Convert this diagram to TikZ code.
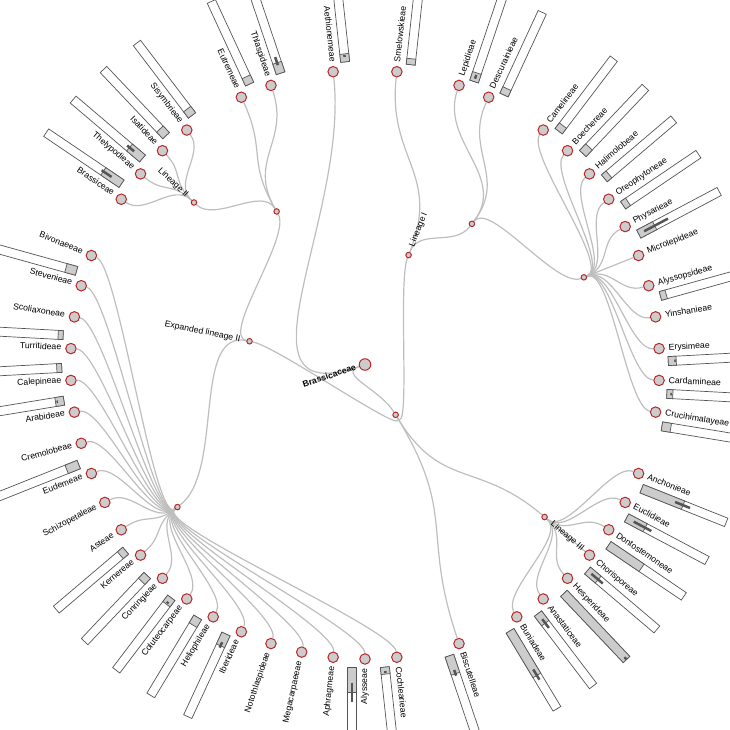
\documentclass[tikz,border=0pt]{standalone}
\usepackage{fontspec}
\setmainfont{Liberation Sans}
\usetikzlibrary{backgrounds}

\definecolor{tribered}{RGB}{185,40,40}
\definecolor{tribegray}{RGB}{204,204,204}
\definecolor{linkgray}{RGB}{190,190,190}
\definecolor{bardark}{RGB}{85,85,85}

% angle, filled length, error bar from, error bar to
\newcommand{\tribebar}[4]{%
  \begin{scope}[rotate=#1]
    \draw[barbox] (303,-17.5) rectangle (394,-8.5);
    \draw[barfill] (303,-17.5) rectangle (303+#2,-8.5);
    \draw[errbar] (303+#3,-13) -- (303+#4,-13);
  \end{scope}}

\begin{document}
\begin{tikzpicture}[
    x=1pt, y=1pt,
    leafnode/.style={circle, draw=tribered, fill=tribegray, line width=1pt, minimum size=10.5pt, inner sep=0pt},
    splitnode/.style={leafnode, minimum size=5.5pt},
    rootnode/.style={leafnode, minimum size=11.5pt},
    tagtext/.style={font=\fontsize{8.7}{10}\selectfont, inner sep=0pt, text height=6.2pt, text depth=1.8pt},
    rtag/.style={tagtext, rotate=#1, anchor=west},
    ltag/.style={tagtext, rotate=#1+180, anchor=east},
    link/.style={draw=linkgray, line width=1.2pt},
    barbox/.style={draw=bardark, line width=0.7pt, fill=white},
    barfill/.style={draw=bardark, line width=0.7pt, fill=tribegray},
    errbar/.style={draw=bardark, line width=2.5pt}
]
    \useasboundingbox (-365,-364.5) rectangle (365,364.5);

    % Bars
    \tribebar{-9.31}{9}{0}{0}
    \tribebar{-3.10}{6}{3.5}{5}
    \tribebar{3.10}{8}{6}{7.5}
    \tribebar{15.52}{6}{0}{0}
    \tribebar{27.93}{18}{6}{33}
    \tribebar{34.14}{6}{0}{0}
    \tribebar{40.34}{6}{0}{0}
    \tribebar{46.55}{9}{0}{0}
    \tribebar{52.76}{7}{0}{0}
    \tribebar{65.17}{7}{0}{0}
    \tribebar{71.38}{9}{3}{7}
    \tribebar{83.79}{6}{0}{0}
    \tribebar{96.21}{8}{5}{7}
    \tribebar{108.62}{11}{8.5}{17}
    \tribebar{114.83}{8}{0}{0}
    \tribebar{127.24}{8}{0}{0}
    \tribebar{133.45}{9}{0}{0}
    \tribebar{139.66}{17}{11}{20}
    \tribebar{145.86}{22}{12}{24}
    \tribebar{164.48}{11}{0}{0}
    \tribebar{176.90}{5}{0}{0}
    \tribebar{183.10}{5}{0}{0}
    \tribebar{189.31}{8.5}{6}{7.5}
    \tribebar{201.72}{13}{0}{0}
    \tribebar{220.34}{7}{0}{0}
    \tribebar{226.55}{8}{0}{0}
    \tribebar{232.76}{8}{5}{7}
    \tribebar{238.97}{9}{0}{0}
    \tribebar{245.17}{13}{9}{15}
    \tribebar{270.00}{24.5}{15}{34}
    \tribebar{276.21}{7}{4}{6}
    \tribebar{288.62}{19}{15}{21}
    \tribebar{301.03}{52}{45}{57}
    \tribebar{307.24}{12}{7}{18}
    \tribebar{313.45}{91}{88}{90.5}
    \tribebar{319.66}{14}{5}{20}
    \tribebar{325.86}{40}{0}{0}
    \tribebar{332.07}{21}{8}{28}
    \tribebar{338.28}{44.5}{36}{52}

    % Inner nodes
    \node[rootnode] (brass) at (0,0) {};
    \node[splitnode] (core) at (301.30:58.9) {};
    \node[splitnode] (explin) at (168.62:117.8) {};
    \node[splitnode] (linI) at (68.28:117.8) {};
    \node[splitnode] (explinA) at (120.00:176.7) {};
    \node[splitnode] (linIa) at (52.76:176.7) {};
    \node[splitnode] (linII) at (136.55:235.6) {};
    \node[splitnode] (explinB) at (217.24:235.6) {};
    \node[splitnode] (linIb) at (21.72:235.6) {};
    \node[splitnode] (linIII) at (319.66:235.6) {};

    \node[ltag=198.76, font=\fontsize{8.7}{10}\selectfont\bfseries] (t-brass) at (198.76:9.5) {Brassicaceae};
    \node[ltag=168.62] (t-explin) at (168.62:127) {Expanded lineage II};
    \node[rtag=68.28] (t-linI) at (68.28:127) {Lineage I};
    \node[ltag=136.55] (t-linII) at (136.55:245) {Lineage II};
    \node[rtag=319.66] (t-linIII) at (319.66:245) {Lineage III};

    % Tribes
    \node[leafnode] (cruc) at (-9.31:294.5) {};
    \node[leafnode] (card) at (-3.10:294.5) {};
    \node[leafnode] (erys) at (3.10:294.5) {};
    \node[leafnode] (yins) at (9.31:294.5) {};
    \node[leafnode] (alyp) at (15.52:294.5) {};
    \node[leafnode] (micr) at (21.72:294.5) {};
    \node[leafnode] (phys) at (27.93:294.5) {};
    \node[leafnode] (oreo) at (34.14:294.5) {};
    \node[leafnode] (hali) at (40.34:294.5) {};
    \node[leafnode] (boec) at (46.55:294.5) {};
    \node[leafnode] (came) at (52.76:294.5) {};
    \node[leafnode] (desc) at (65.17:294.5) {};
    \node[leafnode] (lepi) at (71.38:294.5) {};
    \node[leafnode] (smel) at (83.79:294.5) {};
    \node[leafnode] (aeth) at (96.21:294.5) {};
    \node[leafnode] (thla) at (108.62:294.5) {};
    \node[leafnode] (eutr) at (114.83:294.5) {};
    \node[leafnode] (sisy) at (127.24:294.5) {};
    \node[leafnode] (isat) at (133.45:294.5) {};
    \node[leafnode] (thel) at (139.66:294.5) {};
    \node[leafnode] (bras) at (145.86:294.5) {};
    \node[leafnode] (bivo) at (158.28:294.5) {};
    \node[leafnode] (stev) at (164.48:294.5) {};
    \node[leafnode] (scol) at (170.69:294.5) {};
    \node[leafnode] (turr) at (176.90:294.5) {};
    \node[leafnode] (cale) at (183.10:294.5) {};
    \node[leafnode] (arab) at (189.31:294.5) {};
    \node[leafnode] (crem) at (195.52:294.5) {};
    \node[leafnode] (eude) at (201.72:294.5) {};
    \node[leafnode] (schi) at (207.93:294.5) {};
    \node[leafnode] (aste) at (214.14:294.5) {};
    \node[leafnode] (kern) at (220.34:294.5) {};
    \node[leafnode] (conr) at (226.55:294.5) {};
    \node[leafnode] (colu) at (232.76:294.5) {};
    \node[leafnode] (heli) at (238.97:294.5) {};
    \node[leafnode] (iber) at (245.17:294.5) {};
    \node[leafnode] (noto) at (251.38:294.5) {};
    \node[leafnode] (mega) at (257.59:294.5) {};
    \node[leafnode] (aphr) at (263.79:294.5) {};
    \node[leafnode] (alys) at (270.00:294.5) {};
    \node[leafnode] (coch) at (276.21:294.5) {};
    \node[leafnode] (bisc) at (288.62:294.5) {};
    \node[leafnode] (buni) at (301.03:294.5) {};
    \node[leafnode] (anas) at (307.24:294.5) {};
    \node[leafnode] (hesp) at (313.45:294.5) {};
    \node[leafnode] (chor) at (319.66:294.5) {};
    \node[leafnode] (dont) at (325.86:294.5) {};
    \node[leafnode] (eucl) at (332.07:294.5) {};
    \node[leafnode] (anch) at (338.28:294.5) {};

    % Tribe names
    \node[rtag=-9.31] (t-cruc) at (-9.31:304) {Crucihimalayeae};
    \node[rtag=-3.10] (t-card) at (-3.10:304) {Cardamineae};
    \node[rtag=3.10] (t-erys) at (3.10:304) {Erysimeae};
    \node[rtag=9.31] (t-yins) at (9.31:304) {Yinshanieae};
    \node[rtag=15.52] (t-alyp) at (15.52:304) {Alyssopsideae};
    \node[rtag=21.72] (t-micr) at (21.72:304) {Microlepideae};
    \node[rtag=27.93] (t-phys) at (27.93:304) {Physarieae};
    \node[rtag=34.14] (t-oreo) at (34.14:304) {Oreophytoneae};
    \node[rtag=40.34] (t-hali) at (40.34:304) {Halimolobeae};
    \node[rtag=46.55] (t-boec) at (46.55:304) {Boechereae};
    \node[rtag=52.76] (t-came) at (52.76:304) {Camelineae};
    \node[rtag=65.17] (t-desc) at (65.17:304) {Descurainieae};
    \node[rtag=71.38] (t-lepi) at (71.38:304) {Lepidieae};
    \node[rtag=83.79] (t-smel) at (83.79:304) {Smelowskieae};
    \node[ltag=96.21] (t-aeth) at (96.21:304) {Aethionemeae};
    \node[ltag=108.62] (t-thla) at (108.62:304) {Thlaspideae};
    \node[ltag=114.83] (t-eutr) at (114.83:304) {Eutremeae};
    \node[ltag=127.24] (t-sisy) at (127.24:304) {Sisymbrieae};
    \node[ltag=133.45] (t-isat) at (133.45:304) {Isatideae};
    \node[ltag=139.66] (t-thel) at (139.66:304) {Thelypodieae};
    \node[ltag=145.86] (t-bras) at (145.86:304) {Brassiceae};
    \node[ltag=158.28] (t-bivo) at (158.28:304) {Bivonaeeae};
    \node[ltag=164.48] (t-stev) at (164.48:304) {Stevenieae};
    \node[ltag=170.69] (t-scol) at (170.69:304) {Scoliaxoneae};
    \node[ltag=176.90] (t-turr) at (176.90:304) {Turritideae};
    \node[ltag=183.10] (t-cale) at (183.10:304) {Calepineae};
    \node[ltag=189.31] (t-arab) at (189.31:304) {Arabideae};
    \node[ltag=195.52] (t-crem) at (195.52:304) {Cremolobeae};
    \node[ltag=201.72] (t-eude) at (201.72:304) {Eudemeae};
    \node[ltag=207.93] (t-schi) at (207.93:304) {Schizopetaleae};
    \node[ltag=214.14] (t-aste) at (214.14:304) {Asteae};
    \node[ltag=220.34] (t-kern) at (220.34:304) {Kernereae};
    \node[ltag=226.55] (t-conr) at (226.55:304) {Conringieae};
    \node[ltag=232.76] (t-colu) at (232.76:304) {Coluteocarpeae};
    \node[ltag=238.97] (t-heli) at (238.97:304) {Heliophileae};
    \node[ltag=245.17] (t-iber) at (245.17:304) {Iberideae};
    \node[ltag=251.38] (t-noto) at (251.38:304) {Notothlaspideae};
    \node[ltag=257.59] (t-mega) at (257.59:304) {Megacarpaeeae};
    \node[ltag=263.79] (t-aphr) at (263.79:304) {Aphragmeae};
    \node[ltag=270.00] (t-alys) at (270.00:304) {Alysseae};
    \node[rtag=276.21] (t-coch) at (276.21:304) {Cochlearieae};
    \node[rtag=288.62] (t-bisc) at (288.62:304) {Biscutelleae};
    \node[rtag=301.03] (t-buni) at (301.03:304) {Buniadeae};
    \node[rtag=307.24] (t-anas) at (307.24:304) {Anastaticeae};
    \node[rtag=313.45] (t-hesp) at (313.45:304) {Hesperideae};
    \node[rtag=319.66] (t-chor) at (319.66:304) {Chorisporeae};
    \node[rtag=325.86] (t-dont) at (325.86:304) {Dontostemoneae};
    \node[rtag=332.07] (t-eucl) at (332.07:304) {Euclidieae};
    \node[rtag=338.28] (t-anch) at (338.28:304) {Anchonieae};

    % Links
    \begin{scope}[on background layer]
    \draw[link] (brass) .. controls (198.76:147.25) and (96.21:147.25) .. (aeth);
    \draw[link] (brass) .. controls (198.76:29.45) and (301.30:29.45) .. (core);
    \draw[link] (core) .. controls (301.30:88.35) and (168.62:88.35) .. (explin);
    \draw[link] (core) .. controls (301.30:88.35) and (68.28:88.35) .. (linI);
    \draw[link] (core) .. controls (301.30:176.7) and (288.62:176.7) .. (bisc);
    \draw[link] (core) .. controls (301.30:147.25) and (319.66:147.25) .. (linIII);

    \draw[link] (explin) .. controls (168.62:147.25) and (120.00:147.25) .. (explinA);
    \draw[link] (explin) .. controls (168.62:176.7) and (217.24:176.7) .. (explinB);
    \draw[link] (explinA) .. controls (120.00:235.6) and (108.62:235.6) .. (thla);
    \draw[link] (explinA) .. controls (120.00:235.6) and (114.83:235.6) .. (eutr);
    \draw[link] (explinA) .. controls (120.00:206.15) and (136.55:206.15) .. (linII);
    \draw[link] (linII) .. controls (136.55:265.05) and (127.24:265.05) .. (sisy);
    \draw[link] (linII) .. controls (136.55:265.05) and (133.45:265.05) .. (isat);
    \draw[link] (linII) .. controls (136.55:265.05) and (139.66:265.05) .. (thel);
    \draw[link] (linII) .. controls (136.55:265.05) and (145.86:265.05) .. (bras);

    \draw[link] (explinB) .. controls (217.24:265.05) and (158.28:265.05) .. (bivo);
    \draw[link] (explinB) .. controls (217.24:265.05) and (164.48:265.05) .. (stev);
    \draw[link] (explinB) .. controls (217.24:265.05) and (170.69:265.05) .. (scol);
    \draw[link] (explinB) .. controls (217.24:265.05) and (176.90:265.05) .. (turr);
    \draw[link] (explinB) .. controls (217.24:265.05) and (183.10:265.05) .. (cale);
    \draw[link] (explinB) .. controls (217.24:265.05) and (189.31:265.05) .. (arab);
    \draw[link] (explinB) .. controls (217.24:265.05) and (195.52:265.05) .. (crem);
    \draw[link] (explinB) .. controls (217.24:265.05) and (201.72:265.05) .. (eude);
    \draw[link] (explinB) .. controls (217.24:265.05) and (207.93:265.05) .. (schi);
    \draw[link] (explinB) .. controls (217.24:265.05) and (214.14:265.05) .. (aste);
    \draw[link] (explinB) .. controls (217.24:265.05) and (220.34:265.05) .. (kern);
    \draw[link] (explinB) .. controls (217.24:265.05) and (226.55:265.05) .. (conr);
    \draw[link] (explinB) .. controls (217.24:265.05) and (232.76:265.05) .. (colu);
    \draw[link] (explinB) .. controls (217.24:265.05) and (238.97:265.05) .. (heli);
    \draw[link] (explinB) .. controls (217.24:265.05) and (245.17:265.05) .. (iber);
    \draw[link] (explinB) .. controls (217.24:265.05) and (251.38:265.05) .. (noto);
    \draw[link] (explinB) .. controls (217.24:265.05) and (257.59:265.05) .. (mega);
    \draw[link] (explinB) .. controls (217.24:265.05) and (263.79:265.05) .. (aphr);
    \draw[link] (explinB) .. controls (217.24:265.05) and (270.00:265.05) .. (alys);
    \draw[link] (explinB) .. controls (217.24:265.05) and (276.21:265.05) .. (coch);

    \draw[link] (linI) .. controls (68.28:206.15) and (83.79:206.15) .. (smel);
    \draw[link] (linI) .. controls (68.28:147.25) and (52.76:147.25) .. (linIa);
    \draw[link] (linIa) .. controls (52.76:235.6) and (65.17:235.6) .. (desc);
    \draw[link] (linIa) .. controls (52.76:235.6) and (71.38:235.6) .. (lepi);
    \draw[link] (linIa) .. controls (52.76:206.15) and (21.72:206.15) .. (linIb);
    \draw[link] (linIb) .. controls (21.72:265.05) and (-9.31:265.05) .. (cruc);
    \draw[link] (linIb) .. controls (21.72:265.05) and (-3.10:265.05) .. (card);
    \draw[link] (linIb) .. controls (21.72:265.05) and (3.10:265.05) .. (erys);
    \draw[link] (linIb) .. controls (21.72:265.05) and (9.31:265.05) .. (yins);
    \draw[link] (linIb) .. controls (21.72:265.05) and (15.52:265.05) .. (alyp);
    \draw[link] (linIb) .. controls (21.72:265.05) and (21.72:265.05) .. (micr);
    \draw[link] (linIb) .. controls (21.72:265.05) and (27.93:265.05) .. (phys);
    \draw[link] (linIb) .. controls (21.72:265.05) and (34.14:265.05) .. (oreo);
    \draw[link] (linIb) .. controls (21.72:265.05) and (40.34:265.05) .. (hali);
    \draw[link] (linIb) .. controls (21.72:265.05) and (46.55:265.05) .. (boec);
    \draw[link] (linIb) .. controls (21.72:265.05) and (52.76:265.05) .. (came);

    \draw[link] (linIII) .. controls (319.66:265.05) and (301.03:265.05) .. (buni);
    \draw[link] (linIII) .. controls (319.66:265.05) and (307.24:265.05) .. (anas);
    \draw[link] (linIII) .. controls (319.66:265.05) and (313.45:265.05) .. (hesp);
    \draw[link] (linIII) .. controls (319.66:265.05) and (319.66:265.05) .. (chor);
    \draw[link] (linIII) .. controls (319.66:265.05) and (325.86:265.05) .. (dont);
    \draw[link] (linIII) .. controls (319.66:265.05) and (332.07:265.05) .. (eucl);
    \draw[link] (linIII) .. controls (319.66:265.05) and (338.28:265.05) .. (anch);
    \end{scope}
\end{tikzpicture}
\end{document}
